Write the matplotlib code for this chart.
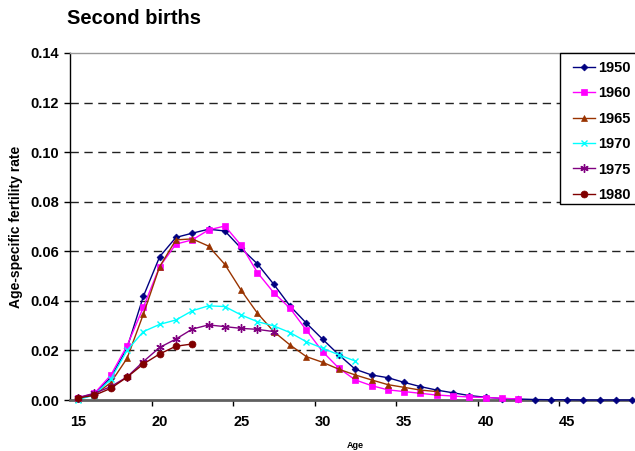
"""Second births: age-specific fertility rate by birth cohort."""

import matplotlib

matplotlib.use("Agg")
import matplotlib.pyplot as plt
from matplotlib.patches import Rectangle

plt.rcParams.update({
    "font.family": ["Liberation Sans", "DejaVu Sans"],
    "font.weight": "bold",
    "axes.linewidth": 1.0,
})

# ----------------------------------------------------------------------
# Data
# ----------------------------------------------------------------------

AGES = list(range(15, 50))
COHORTS = ["1950", "1960", "1965", "1970", "1975", "1980"]

RATE_1950 = [0.0007, 0.0025, 0.0090, 0.0210, 0.0418, 0.0578, 0.0656, 0.0673,
             0.0689, 0.0682, 0.0612, 0.0549, 0.0467, 0.0379, 0.0310, 0.0245,
             0.0182, 0.0124, 0.0101, 0.0090, 0.0071, 0.0054, 0.0040, 0.0029,
             0.0018, 0.0011, 0.0006, 0.0004, 0.0002, 0.0001, 0.0001, 0.0000,
             0.0000, 0.0000, 0.0000]
RATE_1960 = [0.0008, 0.0027, 0.0100, 0.0219, 0.0374, 0.0538, 0.0629, 0.0646,
             0.0686, 0.0702, 0.0624, 0.0514, 0.0433, 0.0370, 0.0282, 0.0195,
             0.0128, 0.0081, 0.0058, 0.0041, 0.0034, 0.0027, 0.0020, 0.0016,
             0.0012, 0.0010, 0.0007, 0.0004]
RATE_1965 = [0.0006, 0.0020, 0.0070, 0.0168, 0.0346, 0.0538, 0.0646, 0.0650,
             0.0621, 0.0547, 0.0443, 0.0350, 0.0276, 0.0222, 0.0175, 0.0152,
             0.0124, 0.0101, 0.0081, 0.0062, 0.0051, 0.0040, 0.0034]
RATE_1970 = [0.0002, 0.0020, 0.0084, 0.0200, 0.0276, 0.0305, 0.0323, 0.0360,
             0.0380, 0.0377, 0.0343, 0.0316, 0.0299, 0.0272, 0.0235, 0.0209,
             0.0182, 0.0157]
RATE_1975 = [0.0010, 0.0027, 0.0054, 0.0093, 0.0155, 0.0212, 0.0246, 0.0286,
             0.0303, 0.0296, 0.0289, 0.0285, 0.0276]
RATE_1980 = [0.0008, 0.0019, 0.0047, 0.0092, 0.0145, 0.0186, 0.0217, 0.0226]

SERIES = [RATE_1950, RATE_1960, RATE_1965, RATE_1970, RATE_1975, RATE_1980]

Y_TICKS = [0.00, 0.02, 0.04, 0.06, 0.08, 0.10, 0.12, 0.14]
X_LABELS = [15, 20, 25, 30, 35, 40, 45]

# Excel-like styles: (colour, marker, marker size)
STYLES = [
    ("#000080", "D", 3.5),
    ("#FF00FF", "s", 5),
    ("#993300", "^", 5),
    ("#00FFFF", "x", 5),
    ("#800080", (6, 2, 0), 6),
    ("#800000", "o", 5),
]


def fig_second_births():
    W, H = 635, 451
    fig = plt.figure(figsize=(W / 100, H / 100), dpi=100)
    # plot area runs slightly past the right edge, as in the original
    left, bottom, top, right = 70, 400, 53, 640.5
    ax = fig.add_axes([left / W, 1 - bottom / H, (right - left) / W, (bottom - top) / H])

    handles = []
    for rates, label, (color, marker, ms) in zip(SERIES, COHORTS, STYLES):
        thin_marker = marker == "x" or isinstance(marker, tuple)
        line, = ax.plot(AGES[:len(rates)], rates, color=color, lw=1.0, marker=marker,
                        markersize=ms, markeredgewidth=1.0 if thin_marker else 0.5,
                        markeredgecolor=color, label=label, clip_on=False, zorder=3)
        handles.append(line)

    ax.set_xlim(14.5, 49.5)
    ax.set_ylim(0, 0.14)

    # dashed gridlines
    for y in Y_TICKS[1:-1]:
        ax.axhline(y, color="#222222", lw=1.0, ls=(0, (6, 4)), zorder=1)

    ax.set_yticks(Y_TICKS)
    ax.set_yticklabels([f"{v:.2f}" for v in Y_TICKS], fontsize=10.5, fontweight="bold")
    ax.tick_params(axis="y", direction="out", length=4, width=1, pad=4)

    ax.set_xticks(X_LABELS)
    ax.set_xticklabels([str(a) for a in X_LABELS], fontsize=10.5, fontweight="bold")
    ax.set_xticks([a - 0.5 for a in X_LABELS[1:]], minor=True)
    ax.tick_params(axis="x", which="major", length=0, pad=11)
    ax.tick_params(axis="x", which="minor", direction="out", length=4, width=1)

    ax.spines["right"].set_visible(False)
    ax.spines["top"].set_color("#999999")
    ax.spines["top"].set_linewidth(1.0)
    ax.spines["bottom"].set_color("#606060")
    ax.spines["bottom"].set_linewidth(2.0)
    ax.spines["left"].set_color("black")

    fig.text(67 / W, 1 - 24 / H, "Second births", fontsize=14.5, fontweight="bold",
             ha="left", va="baseline")
    fig.text(16 / W, 1 - 227 / H, "Age-specific fertility rate", fontsize=10,
             fontweight="bold", rotation=90, ha="center", va="center")
    fig.text(355 / W, 1 - 445 / H, "Age", fontsize=6.5, fontweight="bold",
             ha="center", va="center")

    # legend box runs off the right edge like the plot area
    fig.patches.append(Rectangle((560 / W, 1 - 204 / H), 90 / W, 151 / H,
                                 transform=fig.transFigure, facecolor="white",
                                 edgecolor="black", lw=1.0, zorder=4))
    fig.legend(handles, COHORTS, loc="upper left",
               bbox_to_anchor=(573 / W, 1 - 61 / H), bbox_transform=fig.transFigure,
               frameon=False, borderpad=0, borderaxespad=0, labelspacing=0.78,
               handlelength=1.5, handletextpad=0.2,
               prop={"size": 10.5, "weight": "bold"}).set_zorder(5)

    fig.savefig("out.png", dpi=100)
    plt.close(fig)


if __name__ == "__main__":
    fig_second_births()
